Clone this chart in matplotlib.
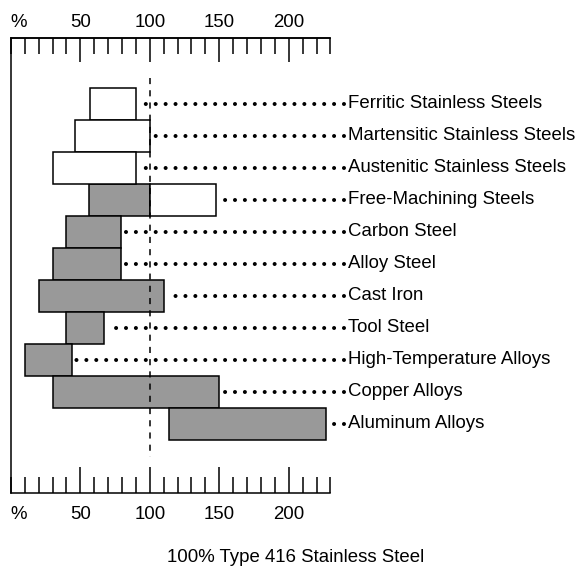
import numpy as np
import matplotlib
matplotlib.use("Agg")
import matplotlib.pyplot as plt
from matplotlib.ticker import MultipleLocator, FixedLocator
from matplotlib.transforms import offset_copy

plt.rcParams['font.family'] = ['Liberation Sans', 'DejaVu Sans']

materials = ["Ferritic Stainless Steels", "Martensitic Stainless Steels",
             "Austenitic Stainless Steels", "Free-Machining Steels",
             "Carbon Steel", "Alloy Steel", "Cast Iron", "Tool Steel",
             "High-Temperature Alloys", "Copper Alloys", "Aluminum Alloys"]
nan = np.nan
# white (open) part of each range, % of Type 416
white_lo = [57, 46, 30, 100, nan, nan, nan, nan, nan, nan, nan]
white_hi = [90, 100, 90, 148, nan, nan, nan, nan, nan, nan, nan]
# grey (filled) part of each range
grey_lo = [nan, nan, nan, 56, 40, 30, 20, 40, 10, 30, 114]
grey_hi = [nan, nan, nan, 100, 79, 79, 110, 67, 44, 150, 227]
major_ticks = [50, 100, 150, 200]

FS = 13.4

fig = plt.figure(figsize=(5.76, 5.69), dpi=100)
ax = fig.add_axes([10.86 / 576, 1 - 493.3 / 569, 230 * 1.3893 / 576, (493.3 - 37.7) / 569])

y = np.arange(len(materials))
wlo, whi = np.array(white_lo), np.array(white_hi)
glo, ghi = np.array(grey_lo), np.array(grey_hi)

ax.barh(y, ghi - glo, left=glo, height=1.0, color="#999999",
        edgecolor="black", linewidth=1.1, zorder=2)
ax.barh(y, whi - wlo, left=wlo, height=1.0, color="white",
        edgecolor="black", linewidth=1.1, zorder=2)

# reference line at 100 %
ax.vlines(100, -0.81, 11.03, colors="black", linewidth=1.1,
          linestyles=(0, (4, 4)), zorder=3, clip_on=False)

# dotted leaders from the bar end to the label
label_x = 242.9
bar_end = np.fmax(np.nan_to_num(whi, nan=0), np.nan_to_num(ghi, nan=0))
for i, name in enumerate(materials):
    ax.plot([label_x - 3.4, bar_end[i] + 2.6], [i, i], color="black",
            linewidth=2.9, linestyle=(0, (0.01, 2.45)),
            dash_capstyle="round", clip_on=False, zorder=3)
    ax.text(label_x, i, name, va="center", ha="left", fontsize=FS,
            clip_on=False)

ax.set_xlim(0, 230)
ax.set_ylim((493.3 - 104) / 32, (37.7 - 104) / 32)

ax.spines["right"].set_visible(False)
for s in ["left", "top", "bottom"]:
    ax.spines[s].set_linewidth(1.1)

# bottom scale
ax.xaxis.set_major_locator(FixedLocator(major_ticks))
ax.xaxis.set_minor_locator(MultipleLocator(10))
ax.set_xticklabels([str(t) for t in major_ticks])
ax.tick_params(axis="x", which="both", direction="in", top=False, bottom=True,
               width=1.1, labelsize=FS)
ax.tick_params(axis="x", which="major", length=19, pad=9)
ax.tick_params(axis="x", which="minor", length=11.3)
ax.set_yticks([])

# top scale
top = ax.secondary_xaxis("top")
top.xaxis.set_major_locator(FixedLocator(major_ticks))
top.xaxis.set_minor_locator(MultipleLocator(10))
top.set_xticklabels([str(t) for t in major_ticks])
top.tick_params(axis="x", which="both", direction="in", width=1.1, labelsize=FS)
top.tick_params(axis="x", which="major", length=17.5, pad=5)
top.tick_params(axis="x", which="minor", length=11.3)
top.spines["top"].set_linewidth(1.1)

xt = ax.get_xaxis_transform()
ax.text(0, 1, "%", transform=offset_copy(xt, fig, y=5, units="points"),
        ha="left", va="bottom", fontsize=FS)
ax.text(0, 0, "%", transform=offset_copy(xt, fig, y=-9, units="points"),
        ha="left", va="top", fontsize=FS)

fig.text(296 / 576, 1 - 562 / 569, "100% Type 416 Stainless Steel",
         ha="center", va="baseline", fontsize=FS)

fig.savefig("out.png", dpi=100)
